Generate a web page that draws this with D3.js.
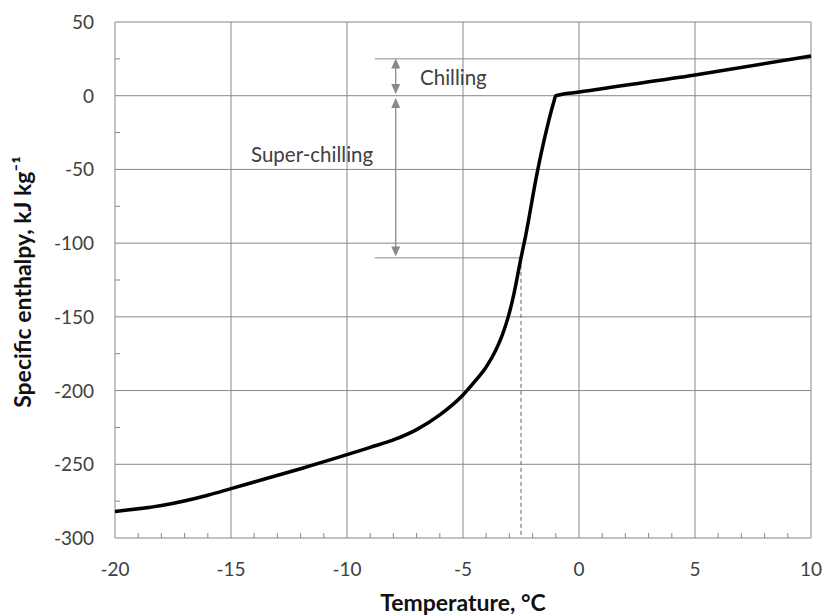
<!DOCTYPE html>
<html><head><meta charset="utf-8">
<script src="https://cdn.jsdelivr.net/npm/d3@7/dist/d3.min.js"></script>
<style>body{margin:0;background:#fff}svg{display:block}</style>
</head><body>
<svg id="c" width="824" height="615"></svg>
<script>
const temps = [-20,-18,-16,-15,-14,-12,-10,-9,-8,-7,-6,-5,-4.5,-4,-3.6,-3.3,-3.05,-2.8,-2.5,-2.3,-1.8,-1.35,-1.1,-1.0,0,5,10];
const enthalpy = [-282,-278,-271,-266.5,-262,-253,-243.5,-238.5,-233.5,-226.5,-216.5,-203,-194,-184,-173,-162,-150,-134,-110,-95,-52,-20,-5,0,2.5,14,27];
const xTicks = [-20,-15,-10,-5,0,5,10];
const yTicks = [50,0,-50,-100,-150,-200,-250,-300];
const xMinor = d3.range(-19,10,1).filter(v=>v%5!==0);
const yMinor = [25,-25,-75,-125,-175,-225,-275];
const chillTop = 25, chillBottom = 0, superBottom = -110, dashT = -2.5, annotX = -7.9, lineStartX = -8.8;

const svg = d3.select('#c');
const x = d3.scaleLinear().domain([-20,10]).range([115,811]);
const y = d3.scaleLinear().domain([-300,50]).range([538,22]);
const grid = '#888', font = 'Lato, "Open Sans", sans-serif', txt='#404040';

// grid
svg.append('g').selectAll('line').data(yTicks).join('line')
 .attr('x1',x(-20)).attr('x2',x(10)).attr('y1',d=>y(d)).attr('y2',d=>y(d))
 .attr('stroke',grid).attr('stroke-width',1);
svg.append('g').selectAll('line').data(xTicks).join('line')
 .attr('y1',y(-300)).attr('y2',y(50)).attr('x1',d=>x(d)).attr('x2',d=>x(d))
 .attr('stroke',grid).attr('stroke-width',1);
// minor ticks
svg.append('g').selectAll('line').data(xMinor).join('line')
 .attr('x1',d=>x(d)).attr('x2',d=>x(d)).attr('y1',y(-300)).attr('y2',y(-300)-5)
 .attr('stroke',grid);
svg.append('g').selectAll('line').data(yMinor).join('line')
 .attr('y1',d=>y(d)).attr('y2',d=>y(d)).attr('x1',x(-20)).attr('x2',x(-20)+5)
 .attr('stroke',grid);

// tick labels
svg.append('g').selectAll('text').data(xTicks).join('text')
 .attr('x',d=>x(d)).attr('y',576).attr('text-anchor','middle')
 .attr('font-family',font).attr('font-size',19).attr('fill',txt).text(d=>d);
svg.append('g').selectAll('text').data(yTicks).join('text')
 .attr('x',94).attr('y',d=>y(d)+7).attr('text-anchor','end')
 .attr('font-family',font).attr('font-size',19).attr('fill',txt).text(d=>d);

// annotation lines
const ann = svg.append('g').attr('stroke',grid).attr('stroke-width',1);
ann.append('line').attr('x1',x(lineStartX)).attr('x2',x(10)).attr('y1',y(chillTop)).attr('y2',y(chillTop));
ann.append('line').attr('x1',x(lineStartX)).attr('x2',x(dashT)).attr('y1',y(superBottom)).attr('y2',y(superBottom));
svg.append('line').attr('x1',x(dashT)).attr('x2',x(dashT)).attr('y1',y(superBottom)).attr('y2',y(-300))
 .attr('stroke','#666').attr('stroke-width',1).attr('stroke-dasharray','4,3');

// arrows
const ax = x(annotX), ac = '#8a8a8a';
function arrow(yFrom,yTo){
  const a=y(yFrom), b=y(yTo);
  svg.append('line').attr('x1',ax).attr('x2',ax).attr('y1',a+6).attr('y2',b-6).attr('stroke',ac).attr('stroke-width',1.3);
  svg.append('path').attr('d',`M${ax},${a}L${ax-4.5},${a+10}L${ax+4.5},${a+10}Z`).attr('fill',ac);
  svg.append('path').attr('d',`M${ax},${b}L${ax-4.5},${b-10}L${ax+4.5},${b-10}Z`).attr('fill',ac);
}
arrow(chillTop+0.3, chillBottom+1.2);
arrow(chillBottom-1.5, superBottom+1);

svg.append('text').attr('x',420).attr('y',85).attr('font-family',font).attr('font-size',20.5).attr('fill',txt).text('Chilling');
svg.append('text').attr('x',251).attr('y',162).attr('font-family',font).attr('font-size',20.5).attr('fill',txt).text('Super-chilling');

// curve
const line = d3.line().x(d=>x(d[0])).y(d=>y(d[1])).curve(d3.curveMonotoneX);
svg.append('path').datum(temps.map((t,i)=>[t,enthalpy[i]])).attr('d',line)
 .attr('fill','none').attr('stroke','#000').attr('stroke-width',3.5).attr('stroke-linejoin','round');

// axis titles
svg.append('text').attr('x',463).attr('y',611).attr('text-anchor','middle')
 .attr('font-family',font).attr('font-weight','bold').attr('font-size',23).attr('fill','#111').text('Temperature, °C');
svg.append('text').attr('transform','translate(31,282) rotate(-90)').attr('text-anchor','middle')
 .attr('font-family',font).attr('font-weight','bold').attr('font-size',23).attr('fill','#111')
 .text('Specific enthalpy, kJ kg⁻¹');
</script>
</body></html>
